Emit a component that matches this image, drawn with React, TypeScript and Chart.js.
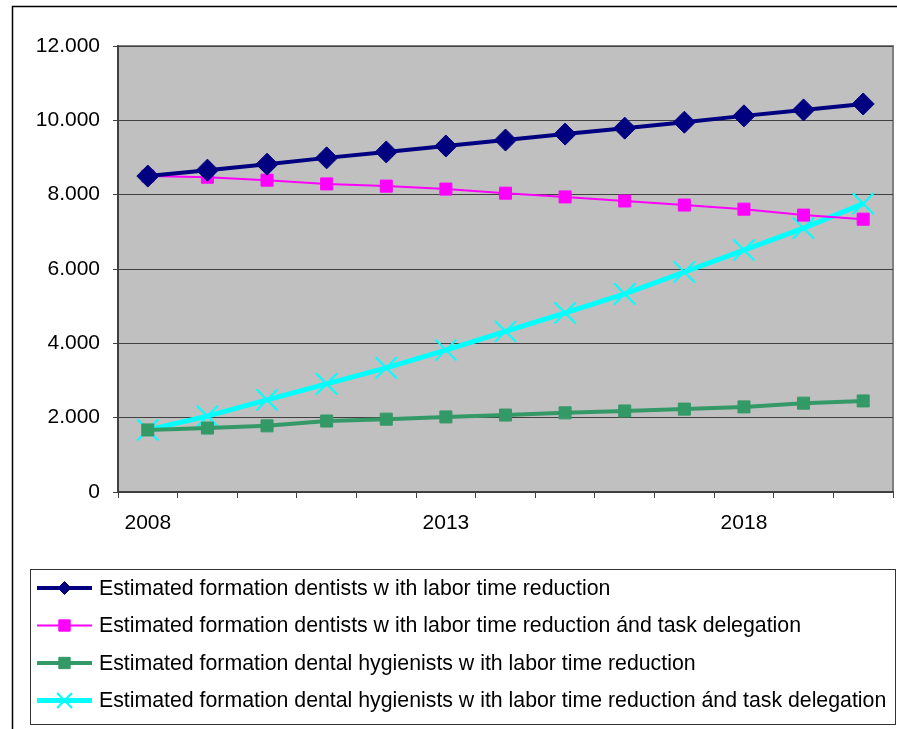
import React, { useEffect, useRef } from "react";
import { Chart, registerables } from "chart.js";
import { drawPoint } from "chart.js/helpers";

Chart.register(...registerables);

const years = ["2008", "2009", "2010", "2011", "2012", "2013", "2014", "2015", "2016", "2017", "2018", "2019", "2020"];
const dentistsLabor = [8500, 8660, 8820, 8990, 9150, 9310, 9470, 9630, 9790, 9950, 10120, 10280, 10440];
const dentistsLaborTask = [8500, 8470, 8390, 8290, 8230, 8150, 8040, 7940, 7830, 7720, 7610, 7450, 7340];
const hygienistsLabor = [1670, 1720, 1780, 1910, 1960, 2020, 2070, 2130, 2180, 2230, 2290, 2390, 2450];
const hygienistsLaborTask = [1670, 2040, 2480, 2910, 3340, 3820, 4320, 4820, 5330, 5920, 6510, 7100, 7760];
const seriesLabels = [
  "Estimated formation dentists w ith labor time reduction",
  "Estimated formation dentists w ith labor time reduction ánd task delegation",
  "Estimated formation dental hygienists w ith labor time reduction",
  "Estimated formation dental hygienists w ith labor time reduction ánd task delegation",
];
const legendMarkerRadius = [6.5, 8, 8, 10.5];

const FONT = "'Liberation Sans', Arial, sans-serif";

const fmt = (v: number) => String(v).replace(/\B(?=(\d{3})+(?!\d))/g, ".");

const framePlugin = {
  id: "framePlugin",
  beforeDraw(chart: any) {
    const { ctx, chartArea } = chart;
    ctx.save();
    ctx.fillStyle = "#ffffff";
    ctx.fillRect(0, 0, chart.width, chart.height);
    ctx.fillStyle = "#C0C0C0";
    ctx.fillRect(chartArea.left, chartArea.top, chartArea.right - chartArea.left, chartArea.bottom - chartArea.top);
    ctx.strokeStyle = "#808080";
    ctx.lineWidth = 2;
    ctx.strokeRect(chartArea.left, chartArea.top, chartArea.right - chartArea.left, chartArea.bottom - chartArea.top);
    ctx.strokeStyle = "#000000";
    ctx.lineWidth = 1.5;
    ctx.strokeRect(12.5, 6.5, 2000, 2000);
    ctx.restore();
  },
  afterDraw(chart: any) {
    const { ctx } = chart;
    ctx.save();
    ctx.strokeStyle = "#333333";
    ctx.lineWidth = 1;
    ctx.strokeRect(30.5, 569.5, 865, 155);
    chart.data.datasets.forEach((ds: any, i: number) => {
      const y = 588 + i * 37.5;
      ctx.strokeStyle = ds.borderColor;
      ctx.lineWidth = ds.borderWidth;
      ctx.beginPath();
      ctx.moveTo(37, y);
      ctx.lineTo(92, y);
      ctx.stroke();
      ctx.fillStyle = ds.pointBackgroundColor;
      ctx.strokeStyle = ds.pointBorderColor;
      ctx.lineWidth = ds.pointBorderWidth;
      drawPoint(ctx, { pointStyle: ds.pointStyle, radius: legendMarkerRadius[i], borderWidth: ds.pointBorderWidth, rotation: 0 }, 64.5, y);
      ctx.fillStyle = "#000000";
      ctx.font = `21.3px ${FONT}`;
      ctx.textBaseline = "middle";
      ctx.textAlign = "left";
      ctx.fillText(ds.label, 99, y + 1);
    });
    ctx.restore();
  },
};

export default function App() {
  const ref = useRef<HTMLCanvasElement | null>(null);
  useEffect(() => {
    if (!ref.current) return;
    const chart = new Chart(ref.current, {
      type: "line",
      data: {
        labels: years,
        datasets: [
          {
            label: seriesLabels[0],
            data: dentistsLabor,
            borderColor: "#000080",
            backgroundColor: "#000080",
            borderWidth: 4,
            pointStyle: "rectRot",
            pointRadius: 11,
            pointBackgroundColor: "#000080",
            pointBorderColor: "#000080",
            pointBorderWidth: 1,
          },
          {
            label: seriesLabels[1],
            data: dentistsLaborTask,
            borderColor: "#FF00FF",
            backgroundColor: "#FF00FF",
            borderWidth: 2,
            pointStyle: "rect",
            pointRadius: 8.5,
            pointBackgroundColor: "#FF00FF",
            pointBorderColor: "#FF00FF",
            pointBorderWidth: 1,
          },
          {
            label: seriesLabels[2],
            data: hygienistsLabor,
            borderColor: "#339966",
            backgroundColor: "#339966",
            borderWidth: 4,
            pointStyle: "rect",
            pointRadius: 8.5,
            pointBackgroundColor: "#339966",
            pointBorderColor: "#339966",
            pointBorderWidth: 1,
          },
          {
            label: seriesLabels[3],
            data: hygienistsLaborTask,
            borderColor: "#00FFFF",
            backgroundColor: "#00FFFF",
            borderWidth: 5,
            pointStyle: "crossRot",
            pointRadius: 15,
            pointBackgroundColor: "#00FFFF",
            pointBorderColor: "#00FFFF",
            pointBorderWidth: 2,
          },
        ],
      },
      options: {
        animation: false,
        responsive: false,
        events: [],
        layout: { autoPadding: false, padding: { top: 46, left: 0, right: 4, bottom: 200 } },
        plugins: { legend: { display: false }, tooltip: { enabled: false } },
        elements: { line: { tension: 0 } },
        scales: {
          x: {
            offset: true,
            afterFit: (s: any) => { s.height = 37; s.paddingLeft = 0; s.paddingRight = 0; },
            grid: { display: true, drawOnChartArea: false, offset: true, tickLength: 6, color: "#404040", lineWidth: 1 },
            border: { display: true, color: "#404040", width: 2 },
            ticks: {
              autoSkip: false,
              maxRotation: 0,
              padding: 13,
              color: "#000000",
              font: { family: FONT, size: 21 },
              callback: (_v: any, i: number) => (i % 5 === 0 ? years[i] : ""),
            },
          },
          y: {
            min: 0,
            max: 12000,
            afterFit: (s: any) => { s.width = 118; },
            grid: { color: "#404040", lineWidth: 1, tickLength: 5 },
            border: { display: true, color: "#404040", width: 2 },
            ticks: {
              stepSize: 2000,
              padding: 13,
              color: "#000000",
              font: { family: FONT, size: 21 },
              callback: (v: any) => fmt(Number(v)),
            },
          },
        },
      },
      plugins: [framePlugin],
    });
    return () => chart.destroy();
  }, []);
  return (
    <div style={{ position: "fixed", left: 0, top: 0, width: 897, height: 729, overflow: "hidden", background: "#fff" }}>
      <canvas ref={ref} width={897} height={729} style={{ width: 897, height: 729, display: "block" }} />
    </div>
  );
}
